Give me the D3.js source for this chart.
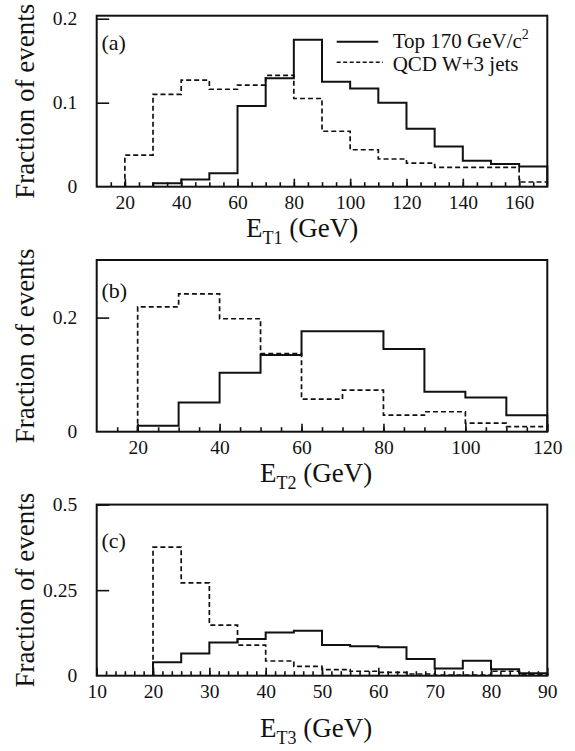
<!DOCTYPE html>
<html>
<head>
<meta charset="utf-8">
<script src="https://cdn.jsdelivr.net/npm/d3@7"></script>
<style>
  html, body { margin: 0; padding: 0; background: #fff; }
  svg { display: block; }
  text { font-family: "Liberation Serif", "Times New Roman", serif; fill: #111; }
</style>
</head>
<body>
<svg id="chart" width="575" height="751"></svg>
<script>
// ---------------- DATA ----------------
// Panel (a): E_T1, bins of 10 GeV from 10 to 170
const edgesA = [10, 20, 30, 40, 50, 60, 70, 80, 90, 100, 110, 120, 130, 140, 150, 160, 170];
const topA   = [0, 0, 0.004, 0.0087, 0.016, 0.096, 0.129, 0.175, 0.125, 0.117, 0.100, 0.069, 0.048, 0.031, 0.027, 0.024];
const qcdA   = [0, 0.0377, 0.110, 0.127, 0.116, 0.121, 0.1325, 0.105, 0.066, 0.044, 0.033, 0.028, 0.023, 0.023, 0.023, 0.0056];
const yTicksA = [0, 0.1, 0.2];
const yLabelsA = ["0", "0.1", "0.2"];
const xLabelsA = [20, 40, 60, 80, 100, 120, 140, 160];

// Panel (b): E_T2, bins of 10 GeV from 10 to 120
const edgesB = [10, 20, 30, 40, 50, 60, 70, 80, 90, 100, 110, 120];
const topB   = [0, 0.0105, 0.051, 0.1035, 0.1345, 0.176, 0.176, 0.145, 0.070, 0.060, 0.029];
const qcdB   = [0, 0.219, 0.2415, 0.198, 0.137, 0.057, 0.073, 0.029, 0.035, 0.015, 0.009];
const yTicksB = [0, 0.2];
const yLabelsB = ["0", "0.2"];
const xLabelsB = [20, 40, 60, 80, 100, 120];

// Panel (c): E_T3, bins of 5 GeV from 10 to 90
const edgesC = [10, 15, 20, 25, 30, 35, 40, 45, 50, 55, 60, 65, 70, 75, 80, 85, 90];
const topC   = [0, 0, 0.039, 0.065, 0.097, 0.107, 0.126, 0.131, 0.090, 0.086, 0.083, 0.049, 0.021, 0.044, 0.019, 0.007];
const qcdC   = [0, 0, 0.376, 0.271, 0.148, 0.0895, 0.043, 0.027, 0.018, 0.013, 0.010, 0.005, 0.002, 0.002, 0.013, 0.004];
const yTicksC = [0, 0.25, 0.5];
const yLabelsC = ["0", "0.25", "0.5"];
const xLabelsC = [10, 20, 30, 40, 50, 60, 70, 80, 90];

const seriesNames = ["Top 170 GeV/c", "QCD W+3 jets"];
const panelTags = ["(a)", "(b)", "(c)"];
const xTitleSubs = ["T1", "T2", "T3"];
const yTitle = "Fraction of events";

// ---------------- LAYOUT ----------------
const svg = d3.select("#chart");
const left = 96.7, right = 547.3;

const panels = [
  { edges: edgesA, top: topA, qcd: qcdA, yTicks: yTicksA, yLabels: yLabelsA, xLabels: xLabelsA,
    xDomain: [10, 170], yDomain: [0, 0.2036], y0: 15.7, y1: 186.7,
    minorStep: 5, tag: panelTags[0], tagY: 50, sub: xTitleSubs[0], titleX: 246, titleY: 237 },
  { edges: edgesB, top: topB, qcd: qcdB, yTicks: yTicksB, yLabels: yLabelsB, xLabels: xLabelsB,
    xDomain: [10, 120], yDomain: [0, 0.301], y0: 260, y1: 431.7,
    minorStep: 5, tag: panelTags[1], tagY: 298, sub: xTitleSubs[1], titleX: 260, titleY: 482 },
  { edges: edgesC, top: topC, qcd: qcdC, yTicks: yTicksC, yLabels: yLabelsC, xLabels: xLabelsC,
    xDomain: [10, 90], yDomain: [0, 0.5], y0: 504.6, y1: 675.7,
    minorStep: 10 / 6, tag: panelTags[2], tagY: 548, sub: xTitleSubs[2], titleX: 260, titleY: 737 }
];

function stepPoints(edges, vals) {
  // trim leading zero bins
  let s = 0;
  while (s < vals.length && vals[s] === 0) s++;
  const pts = [[edges[s], 0]];
  for (let i = s; i < vals.length; i++) {
    pts.push([edges[i], vals[i]]);
  }
  pts.push([edges[vals.length], vals[vals.length - 1]]);
  pts.push([edges[vals.length], 0]);
  return pts;
}

panels.forEach((p, idx) => {
  const g = svg.append("g");
  const x = d3.scaleLinear().domain(p.xDomain).range([left, right]);
  const y = d3.scaleLinear().domain(p.yDomain).range([p.y1, p.y0]);

  // minor x ticks (inward)
  const nMinor = Math.round((p.xDomain[1] - p.xDomain[0]) / p.minorStep);
  const minorVals = d3.range(1, nMinor).map(i => p.xDomain[0] + i * p.minorStep);
  g.append("g")
    .attr("transform", `translate(0,${p.y1})`)
    .call(d3.axisBottom(x).tickValues(minorVals).tickSize(-4.5).tickFormat(""))
    .call(a => a.select(".domain").remove())
    .call(a => a.selectAll("line").attr("stroke", "#111").attr("stroke-width", 1.6));

  // major x ticks with labels
  g.append("g")
    .attr("transform", `translate(0,${p.y1})`)
    .call(d3.axisBottom(x).tickValues(p.xLabels).tickSize(-8).tickPadding(8).tickFormat(d3.format("d")))
    .call(a => a.select(".domain").remove())
    .call(a => a.selectAll("line").attr("stroke", "#111").attr("stroke-width", 1.6))
    .call(a => a.selectAll("text").attr("font-size", 19.5).attr("fill", "#111")
       .style("font-family", '"Liberation Serif", serif'));

  // y ticks
  g.append("g")
    .attr("transform", `translate(${left},0)`)
    .call(d3.axisLeft(y).tickValues(p.yTicks).tickSize(-12.5).tickPadding(19.5)
      .tickFormat((d, i) => p.yLabels[i]))
    .call(a => a.select(".domain").remove())
    .call(a => a.selectAll("line").attr("stroke", "#111").attr("stroke-width", 1.6)
       .attr("opacity", d => d === 0 ? 0 : 1))
    .call(a => a.selectAll("text").attr("font-size", 19.5).attr("fill", "#111")
       .style("font-family", '"Liberation Serif", serif'));

  // histograms
  const line = d3.line().x(d => x(d[0])).y(d => y(d[1])).curve(d3.curveStepAfter);
  g.append("path")
    .attr("d", line(stepPoints(p.edges, p.qcd)))
    .attr("fill", "none").attr("stroke", "#111").attr("stroke-width", 1.7)
    .attr("stroke-dasharray", "5,3");
  g.append("path")
    .attr("d", line(stepPoints(p.edges, p.top)))
    .attr("fill", "none").attr("stroke", "#111").attr("stroke-width", 2);

  // frame
  g.append("rect")
    .attr("x", left).attr("y", p.y0)
    .attr("width", right - left).attr("height", p.y1 - p.y0)
    .attr("fill", "none").attr("stroke", "#111").attr("stroke-width", 2);

  // panel tag
  g.append("text").attr("x", 101.5).attr("y", p.tagY)
    .attr("font-size", 22).text(p.tag);

  // x title
  const t = g.append("text").attr("x", p.titleX).attr("y", p.titleY).attr("font-size", 27);
  t.append("tspan").text("E");
  t.append("tspan").attr("font-size", 18).attr("dy", 7).text(p.sub);
  t.append("tspan").attr("dy", -7).text(" (GeV)");

  // y title
  g.append("text")
    .attr("transform", `translate(33.5,${(p.y0 + p.y1) / 2}) rotate(-90)`)
    .attr("text-anchor", "middle").attr("font-size", 27)
    .text(yTitle);

  // legend (panel a only)
  if (idx === 0) {
    const lg = g.append("g");
    lg.append("line").attr("x1", 336.7).attr("x2", 378.3).attr("y1", 41.7).attr("y2", 41.7)
      .attr("stroke", "#111").attr("stroke-width", 2);
    lg.append("line").attr("x1", 336.7).attr("x2", 383).attr("y1", 62.3).attr("y2", 62.3)
      .attr("stroke", "#111").attr("stroke-width", 1.5).attr("stroke-dasharray", "4,2.5");
    const l1 = lg.append("text").attr("x", 392.7).attr("y", 47.5).attr("font-size", 21);
    l1.append("tspan").text(seriesNames[0]);
    l1.append("tspan").attr("font-size", 14).attr("dy", -9).text("2");
    lg.append("text").attr("x", 392.7).attr("y", 70.5).attr("font-size", 21).text(seriesNames[1]);
  }
});
</script>
</body>
</html>
